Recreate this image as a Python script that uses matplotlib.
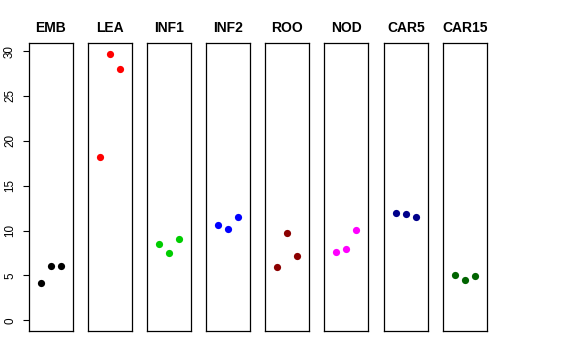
import matplotlib
matplotlib.use('Agg')
from matplotlib import pyplot as plt

plt.rcParams['font.family'] = ['Liberation Sans', 'DejaVu Sans']

tissues = ['EMB', 'LEA', 'INF1', 'INF2', 'ROO', 'NOD', 'CAR5', 'CAR15']
colours = ['black', '#FF0000', '#00CD00', '#0000FF', '#8B0000', '#FF00FF', '#00008B', '#006400']
reps = [1, 2, 3]
emb = [4.2, 6.1, 6.0]
lea = [18.2, 29.7, 28.0]
inf1 = [8.45, 7.5, 9.1]
inf2 = [10.6, 10.2, 11.5]
roo = [5.9, 9.7, 7.15]
nod = [7.6, 8.0, 10.1]
car5 = [12.0, 11.8, 11.5]
car15 = [5.1, 4.5, 4.95]
values = [emb, lea, inf1, inf2, roo, nod, car5, car15]
yticks = [0, 5, 10, 15, 20, 25, 30]

W, H = 576, 360
fig = plt.figure(figsize=(W / 100, H / 100), dpi=100)

lefts = [29, 88, 147, 206, 265, 324, 384, 443]
top, bottom, pw = 43, 331, 44

for i, (name, col, vals) in enumerate(zip(tissues, colours, values)):
    ax = fig.add_axes([lefts[i] / W, (H - bottom) / H, pw / W, (bottom - top) / H])
    ax.plot(reps, vals, 'o', color=col, ms=5.2, mec='none')
    ax.set_xlim(-0.16, 4.16)
    ax.set_ylim(-1.19, 30.9)
    ax.set_xticks([])
    for s in ax.spines.values():
        s.set_linewidth(0.9)
        s.set_color('black')
    ax.set_title(name, fontsize=10, fontweight='bold', pad=8)
    if i == 0:
        ax.set_yticks(yticks)
        ax.tick_params(axis='y', length=4.3, width=0.8, labelsize=8.4, pad=5)
        for lab in ax.get_yticklabels():
            lab.set_rotation(90)
            lab.set_va('center')
    else:
        ax.set_yticks([])

fig.savefig('out.png', dpi=100)
